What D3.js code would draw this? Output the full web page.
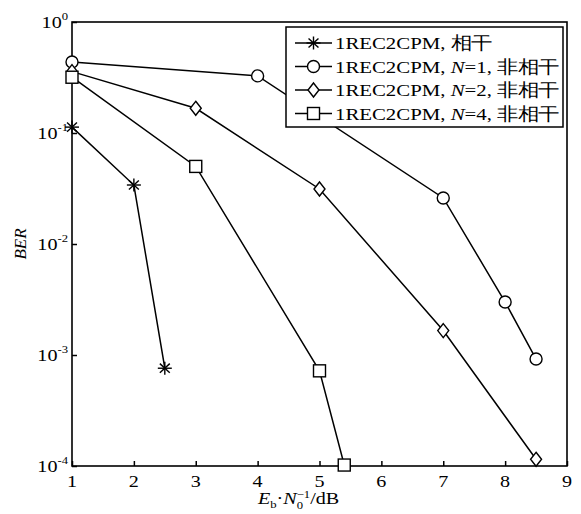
<!DOCTYPE html>
<html>
<head>
<meta charset="utf-8">
<script src="https://cdn.jsdelivr.net/npm/d3@7"></script>
<style>
  body { margin: 0; background: #fff; }
  text { font-family: "Liberation Serif", "Times New Roman", serif; fill: #000; }
</style>
</head>
<body>
<div id="chart"></div>
<script>
// Data
var snrCoh = [1, 2, 2.5];
var berCoh = [0.113, 0.034, 7.6e-4];

var snrN1 = [1, 4, 7, 8, 8.5];
var berN1 = [0.436, 0.327, 0.026, 0.003, 9.2e-4];

var snrN2 = [1, 3, 5, 7, 8.5];
var berN2 = [0.357, 0.167, 0.0313, 0.00166, 1.15e-4];

var snrN4 = [1, 3, 5, 5.4];
var berN4 = [0.318, 0.05, 7.2e-4, 1.02e-4];

var xTicks = [1, 2, 3, 4, 5, 6, 7, 8, 9];
var yExps = [0, -1, -2, -3, -4];

var seriesNames = ["coh", "n1", "n2", "n4"];

// svg size
var svgWidth = 581;
var svgHeight = 514;

var margin = { top: 22, right: 14, bottom: 48, left: 72 };
var width = svgWidth - margin.left - margin.right;
var height = svgHeight - margin.top - margin.bottom;

var svg = d3.select("#chart")
    .append("svg")
    .attr("width", svgWidth)
    .attr("height", svgHeight);

var chartGroup = svg.append("g")
    .attr("transform", `translate(${margin.left}, ${margin.top})`);

// the text in the figure is a bit wider than Times, so stretch it
function wideText(parent, x, y, anchor, size, stretch) {
    return parent.append("g")
        .attr("transform", `translate(${x}, ${y}) scale(${stretch || 1.15}, 1)`)
        .append("text")
        .attr("text-anchor", anchor)
        .attr("font-size", size + "px");
}

// scales
var xScale = d3.scaleLinear().domain([1, 9]).range([0, width]);
var yScale = d3.scaleLog().domain([1e-4, 1]).range([height, 0]);

// axes (ticks inward), labels drawn separately
var bottomAxis = d3.axisBottom(xScale)
    .tickValues(xTicks)
    .tickSize(-5)
    .tickFormat("");

var leftAxis = d3.axisLeft(yScale)
    .tickValues(yExps.map(e => Math.pow(10, e)))
    .tickSize(-5)
    .tickFormat("");

var xAxisG = chartGroup.append("g")
    .attr("transform", `translate(0, ${height})`)
    .call(bottomAxis);

var yAxisG = chartGroup.append("g")
    .call(leftAxis);

[xAxisG, yAxisG].forEach(g => {
    g.select(".domain").remove();
    g.selectAll("line").attr("stroke", "#000").attr("stroke-width", 1.5);
});

xTicks.forEach(v => {
    wideText(chartGroup, xScale(v), height + 21, "middle", 17.5).text(v);
});

// y tick labels as 10^n
yExps.forEach(e => {
    var t = wideText(chartGroup, -4, yScale(Math.pow(10, e)) + 6, "end", 17.5);
    t.append("tspan").text("10");
    t.append("tspan")
        .attr("dy", -8)
        .attr("font-size", "11px")
        .text(e === 0 ? "0" : "-" + Math.abs(e));
});

// frame
chartGroup.append("rect")
    .attr("x", 0)
    .attr("y", 0)
    .attr("width", width)
    .attr("height", height)
    .attr("fill", "none")
    .attr("stroke", "#000")
    .attr("stroke-width", 1.6);

// markers
function drawMarker(g, name, x, y) {
    if (name === "coh") {
        [0, 45, 90, 135].forEach(a => {
            var rad = a * Math.PI / 180;
            var rx = 7 * Math.cos(rad), ry = 6.5 * Math.sin(rad);
            g.append("line")
                .attr("x1", x - rx).attr("y1", y - ry)
                .attr("x2", x + rx).attr("y2", y + ry)
                .attr("stroke", "#000").attr("stroke-width", 1.4);
        });
    } else if (name === "n1") {
        g.append("circle")
            .attr("cx", x).attr("cy", y).attr("r", 6)
            .attr("fill", "#fff").attr("stroke", "#000").attr("stroke-width", 1.4);
    } else if (name === "n2") {
        g.append("path")
            .attr("d", `M${x},${y - 7}L${x + 5.5},${y}L${x},${y + 7}L${x - 5.5},${y}Z`)
            .attr("fill", "#fff").attr("stroke", "#000").attr("stroke-width", 1.4);
    } else {
        g.append("rect")
            .attr("x", x - 6).attr("y", y - 6).attr("width", 12).attr("height", 12)
            .attr("fill", "#fff").attr("stroke", "#000").attr("stroke-width", 1.4);
    }
}

var allSeries = [
    { name: "coh", x: snrCoh, y: berCoh },
    { name: "n1", x: snrN1, y: berN1 },
    { name: "n2", x: snrN2, y: berN2 },
    { name: "n4", x: snrN4, y: berN4 }
];

var line = d3.line()
    .x(d => xScale(d[0]))
    .y(d => yScale(d[1]));

allSeries.forEach(s => {
    var pts = s.x.map((v, i) => [v, s.y[i]]);
    chartGroup.append("path")
        .datum(pts)
        .attr("d", line)
        .attr("fill", "none")
        .attr("stroke", "#000")
        .attr("stroke-width", 1.5);
});

allSeries.forEach(s => {
    var mg = chartGroup.append("g");
    s.x.forEach((v, i) => drawMarker(mg, s.name, xScale(v), yScale(s.y[i])));
});

// legend
var legend = svg.append("g").attr("transform", "translate(286, 27)");
legend.append("rect")
    .attr("x", 0).attr("y", 0)
    .attr("width", 277).attr("height", 100)
    .attr("fill", "#fff").attr("stroke", "#000").attr("stroke-width", 1.5);

var legendLabels = [
    [["1REC2CPM, ", false], ["相干", false]],
    [["1REC2CPM, ", false], ["N", true], ["=1, 非相干", false]],
    [["1REC2CPM, ", false], ["N", true], ["=2, 非相干", false]],
    [["1REC2CPM, ", false], ["N", true], ["=4, 非相干", false]]
];

seriesNames.forEach((name, i) => {
    var cy = 16 + i * 23.5;
    legend.append("line")
        .attr("x1", 9).attr("x2", 46).attr("y1", cy).attr("y2", cy)
        .attr("stroke", "#000").attr("stroke-width", 1.5);
    drawMarker(legend, name, 27.5, cy);
    var t = wideText(legend, 49, cy + 6, "start", 17.5, 1.19);
    legendLabels[i].forEach(p => {
        var ts = t.append("tspan").text(p[0]);
        if (p[1]) ts.attr("font-style", "italic");
    });
});

// axis labels
svg.append("text")
    .attr("transform", `translate(26, ${margin.top + height / 2}) rotate(-90)`)
    .attr("text-anchor", "middle")
    .attr("font-size", "17px")
    .attr("font-style", "italic")
    .text("BER");

var xl = wideText(svg, 258, 504, "start", 17.5);
xl.append("tspan").attr("font-style", "italic").text("E");
xl.append("tspan").attr("font-size", "11px").attr("dy", 4).text("b");
xl.append("tspan").attr("dy", -4).text("·");
xl.append("tspan").attr("font-style", "italic").text("N");
xl.append("tspan").attr("font-size", "11px").attr("dy", 5).text("0");
xl.append("tspan").attr("font-size", "11px").attr("dx", -5.5).attr("dy", -11).text("−1");
xl.append("tspan").attr("dy", 6).text("/dB");
</script>
</body>
</html>
